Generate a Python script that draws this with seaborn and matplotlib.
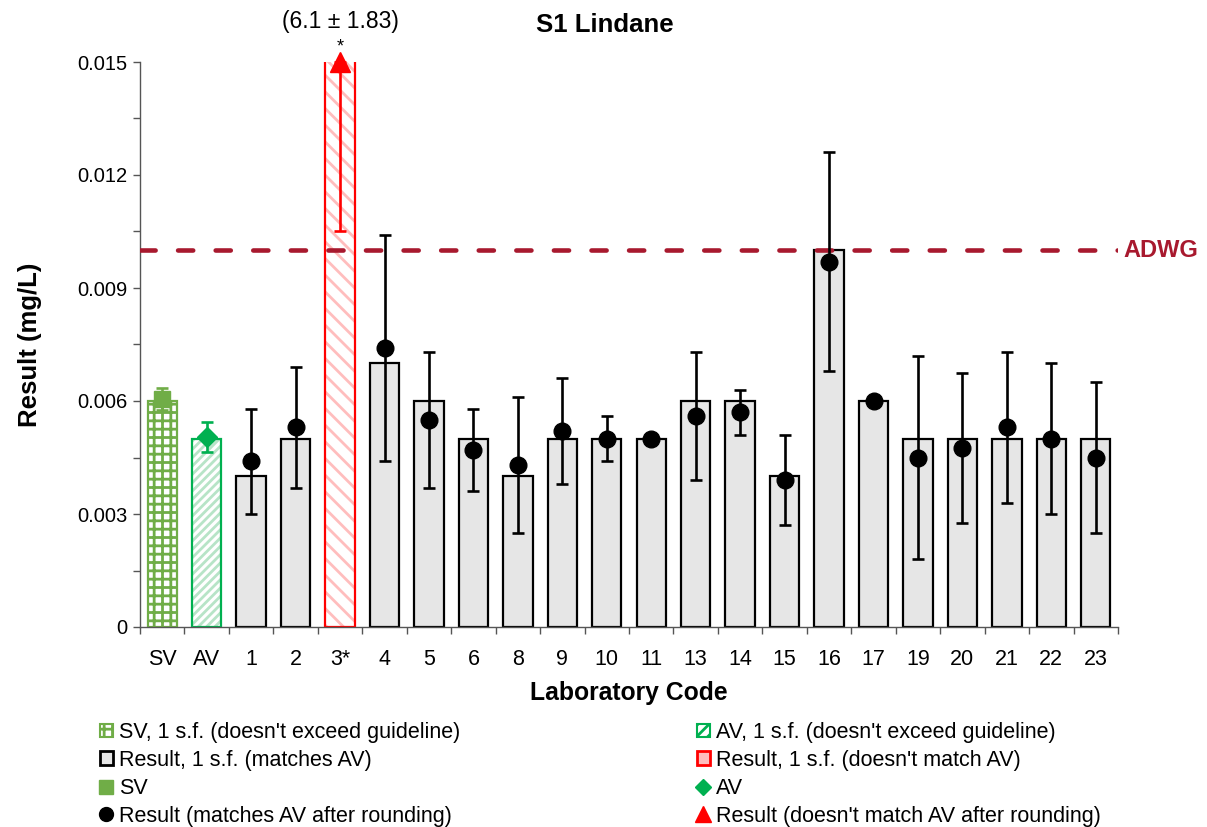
import numpy as np
import pandas as pd
import matplotlib
matplotlib.use("Agg")
import matplotlib.pyplot as plt
import matplotlib.transforms as mtransforms
from matplotlib.patches import Patch, Rectangle
from matplotlib.lines import Line2D
import seaborn as sns

# ---------------- data ----------------
labels = ["SV", "AV", "1", "2", "3*", "4", "5", "6", "8", "9", "10", "11",
          "13", "14", "15", "16", "17", "19", "20", "21", "22", "23"]
bar_values = [0.006, 0.005, 0.004, 0.005, 6, 0.007, 0.006, 0.005, 0.004, 0.005,
              0.005, 0.005, 0.006, 0.006, 0.004, 0.010, 0.006, 0.005, 0.005,
              0.005, 0.005, 0.005]
results = [0.00605, 0.00505, 0.0044, 0.0053, 6.1, 0.0074, 0.0055, 0.0047,
           0.0043, 0.0052, 0.0050, 0.0050, 0.0056, 0.0057, 0.0039, 0.0097,
           0.0060, 0.0045, 0.00475, 0.0053, 0.0050, 0.0045]
uncertainties = [0.0003, 0.0004, 0.0014, 0.0016, 1.83, 0.0030, 0.0018, 0.0011,
                 0.0018, 0.0014, 0.0006, 0.0, 0.0017, 0.0006, 0.0012, 0.0029,
                 0.0, 0.0027, 0.0020, 0.0020, 0.0020, 0.0020]
lab3_shown_lower = 0.0105
guideline = 0.010
y_max = 0.015
y_ticks = [0, 0.003, 0.006, 0.009, 0.012, 0.015]
y_tick_labels = ["0", "0.003", "0.006", "0.009", "0.012", "0.015"]
lab3_annotation = "(6.1 \u00b1 1.83)"

# ---------------- style ----------------
SV_GREEN = "#70AD47"
AV_GREEN = "#00B050"
AV_HATCH = "#B7E4C7"
RED = "#FF0000"
RED_HATCH = "#FFBDBD"
ADWG_COL = "#A8192E"
BAR_FACE = "#E6E6E6"

sns.set_theme(style="ticks")
plt.rcParams['font.family'] = ['Liberation Sans', 'DejaVu Sans']
plt.rcParams['hatch.linewidth'] = 2.0
for key in ("text.color", "axes.labelcolor", "xtick.labelcolor", "ytick.labelcolor"):
    plt.rcParams[key] = "black"

W, H = 1207, 827
fig = plt.figure(figsize=(W / 100, H / 100), dpi=100)
ax = fig.add_axes([140 / W, 1 - 627 / H, (1118 - 140) / W, (627 - 62) / H])

df = pd.DataFrame({"Lab": labels, "Value": bar_values})
sns.barplot(data=df, x="Lab", y="Value", order=labels, color=BAR_FACE,
            saturation=1, width=0.66, edgecolor="black", linewidth=1.6,
            errorbar=None, ax=ax, zorder=2)

bars = list(ax.containers[0])
special = {0: (SV_GREEN, SV_GREEN, "++"),
           1: (AV_HATCH, AV_GREEN, "////"),
           4: (RED_HATCH, RED, "\\\\")}
for idx, (hcol, ecol, hatch) in special.items():
    p = bars[idx]
    p.set_facecolor("white")
    p.set_edgecolor(hcol)
    p.set_hatch(hatch)
    p.set_linewidth(0)
    outline = Rectangle(p.get_xy(), p.get_width(), p.get_height(), fill=False,
                        edgecolor=ecol, linewidth=1.6, zorder=2.5)
    ax.add_patch(outline)

ax.set_ylim(0, y_max)
ax.set_xlim(-0.5, len(labels) - 0.5)

# guideline
ax.axhline(guideline, color=ADWG_COL, linewidth=3.3, linestyle=(0, (3.3, 4.9)),
           dash_capstyle="round", zorder=3)
ax.text(1.006, guideline, "ADWG", transform=mtransforms.blended_transform_factory(ax.transAxes, ax.transData),
        ha="left", va="center", color=ADWG_COL, fontsize=17, fontweight="bold")

# points and error bars
xs = np.arange(len(labels))
eb_kw = dict(capsize=4.4, elinewidth=1.9, capthick=1.9, linestyle="none", zorder=4)
ax.errorbar(xs[0], results[0], yerr=uncertainties[0], fmt="s", ms=12,
            color=SV_GREEN, ecolor=SV_GREEN, **eb_kw)
ax.errorbar(xs[1], results[1], yerr=uncertainties[1], fmt="D", ms=10,
            color=AV_GREEN, ecolor=AV_GREEN, **eb_kw)
for i in range(2, len(labels)):
    if i == 4:
        continue
    ax.errorbar(xs[i], results[i], yerr=uncertainties[i], fmt="o", ms=12,
                color="black", ecolor="black", **eb_kw)
# out-of-range result (lab 3*)
ax.errorbar(xs[4], y_max, yerr=[[y_max - lab3_shown_lower], [0]], fmt="none",
            ecolor=RED, clip_on=False, **eb_kw)
ax.plot(xs[4], y_max, marker="^", ms=14, color=RED, clip_on=False, zorder=5)
ax.annotate("*", xy=(xs[4], y_max), xytext=(0, 10.5), textcoords="offset points",
            ha="center", va="center", fontsize=13, annotation_clip=False)
ax.annotate(lab3_annotation, xy=(xs[4], y_max), xytext=(0, 29),
            textcoords="offset points", ha="center", va="center", fontsize=16.5,
            annotation_clip=False)

# axes, ticks
sns.despine(ax=ax)
for s in ("left", "bottom"):
    ax.spines[s].set_color("#555555")
    ax.spines[s].set_linewidth(1.0)
ax.set_xticks(np.arange(-0.5, len(labels), 1))
ax.set_xticklabels([])
ax.set_xticks(xs, labels=labels, minor=True)
ax.tick_params(axis="x", which="major", direction="out", length=5, width=1,
               color="#555555")
ax.tick_params(axis="x", which="minor", length=0, pad=16, labelsize=15.5,
               labelcolor="black")
ax.set_yticks(y_ticks, labels=y_tick_labels)
ax.set_yticks(np.arange(0.0015, y_max, 0.003), minor=True)
ax.tick_params(axis="y", which="both", direction="out", length=5, width=1,
               color="#555555", labelsize=14.5, pad=4, labelcolor="black")

ax.set_xlabel("Laboratory Code", fontsize=17.8, fontweight="bold", color="black")
ax.set_ylabel("Result (mg/L)", fontsize=18.5, fontweight="bold", color="black")
ax.xaxis.set_label_coords(0.5, -0.095)
ax.yaxis.set_label_coords(-0.1, 0.5)

fig.text(605 / W, 1 - 25 / H, "S1 Lindane", ha="center", va="center",
         fontsize=18.5, fontweight="bold", color="black")

# legend
left_handles = [
    Patch(facecolor="white", edgecolor=SV_GREEN, hatch="++", linewidth=1.5),
    Patch(facecolor=BAR_FACE, edgecolor="black", linewidth=2),
    Line2D([], [], marker="s", color=SV_GREEN, linestyle="none", ms=10),
    Line2D([], [], marker="o", color="black", linestyle="none", ms=10),
]
left_labels = ["SV, 1 s.f. (doesn't exceed guideline)", "Result, 1 s.f. (matches AV)",
               "SV", "Result (matches AV after rounding)"]
right_handles = [
    Patch(facecolor="white", edgecolor=AV_GREEN, hatch="///", linewidth=1.5),
    Patch(facecolor=RED_HATCH, edgecolor=RED, linewidth=2),
    Line2D([], [], marker="D", color=AV_GREEN, linestyle="none", ms=8),
    Line2D([], [], marker="^", color=RED, linestyle="none", ms=11),
]
right_labels = ["AV, 1 s.f. (doesn't exceed guideline)", "Result, 1 s.f. (doesn't match AV)",
                "AV", "Result (doesn't match AV after rounding)"]
leg_kw = dict(loc="upper left", frameon=False, fontsize=15.5, handlelength=0.6,
              handleheight=0.6, handletextpad=0.3, labelspacing=0.32,
              borderpad=0, borderaxespad=0, labelcolor="black")
fig.legend(left_handles, left_labels, bbox_to_anchor=(100 / W, 1 - 722 / H), **leg_kw)
fig.legend(right_handles, right_labels, bbox_to_anchor=(697 / W, 1 - 722 / H), **leg_kw)

fig.savefig("out.png", dpi=100)
